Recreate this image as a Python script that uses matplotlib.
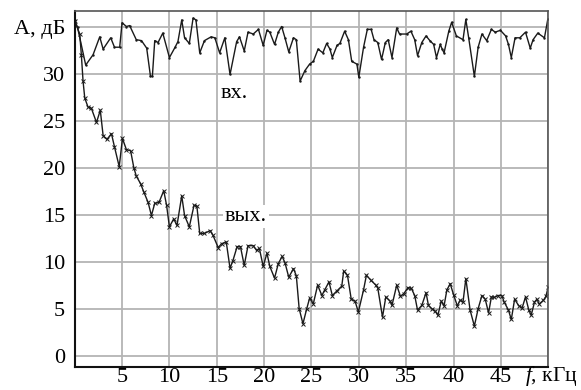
import matplotlib.pyplot as plt

plt.rcParams['font.family'] = ['Liberation Serif', 'DejaVu Serif']
plt.rcParams['mathtext.fontset'] = 'custom'
plt.rcParams['mathtext.it'] = 'Liberation Serif:italic'
plt.rcParams['mathtext.rm'] = 'Liberation Serif'
plt.rcParams['font.size'] = 16

# input signal ("вх.")
f_in = [0, 0.3, 1.16, 1.94, 2.64, 3.0, 3.8, 4.2, 4.75, 5.0, 5.46, 5.8, 6.5, 7.05, 7.6,
        8.0, 8.2, 8.45, 8.8, 9.3, 10.0, 10.6, 10.9, 11.3, 11.6, 12.1, 12.5, 12.8, 13.2,
        13.7, 14.4, 14.8, 15.3, 15.85, 16.4, 17.1, 17.4, 17.9, 18.3, 18.85, 19.4, 19.9,
        20.3, 20.6, 21.1, 21.5, 21.85, 22.2, 22.6, 23.1, 23.4, 23.8, 24.3, 24.8, 25.2,
        25.7, 26.2, 26.6, 26.95, 27.2, 27.7, 28.0, 28.5, 28.9, 29.25, 29.8, 30.0, 30.5,
        30.9, 31.3, 31.6, 32.0, 32.4, 32.8, 33.1, 33.5, 34.0, 34.3, 35.05, 35.5, 35.9,
        36.2, 36.65, 37.1, 37.5, 37.9, 38.2, 38.6, 38.8, 39.0, 39.5, 39.8, 40.3, 41.0,
        41.3, 41.6, 42.2, 42.6, 43.0, 43.5, 44.0, 44.4, 44.95, 45.5, 45.8, 46.1, 46.5,
        47.0, 47.6, 48.1, 48.4, 48.9, 49.6, 49.95]
a_in = [35.7, 34.9, 30.9, 32.0, 33.9, 32.6, 33.8, 32.8, 32.8, 35.4, 35.0, 35.1, 33.6, 33.5,
        32.7, 29.7, 29.7, 33.5, 33.3, 34.3, 31.7, 32.8, 33.4, 35.7, 33.8, 33.2, 35.9,
        35.7, 32.2, 33.5, 33.9, 33.8, 32.2, 33.8, 29.9, 33.4, 33.9, 32.4, 34.4, 34.2,
        34.7, 33.0, 34.6, 34.4, 33.1, 34.4, 35.0, 33.8, 32.3, 33.8, 33.6, 29.2, 30.3,
        31.0, 31.3, 32.6, 32.2, 33.2, 32.6, 31.7, 33.0, 33.2, 34.5, 33.6, 31.3, 31.0,
        29.6, 32.8, 34.7, 34.7, 33.6, 33.3, 31.5, 33.3, 33.6, 31.7, 34.85, 34.2, 34.2,
        34.5, 33.6, 31.9, 33.3, 34.0, 33.5, 33.1, 31.7, 33.1, 32.6, 32.2, 34.5, 35.45,
        34.0, 33.6, 35.75, 33.8, 29.7, 32.8, 34.2, 33.5, 34.7, 34.4, 34.6, 34.0, 33.1,
        31.7, 33.8, 33.8, 34.4, 32.7, 33.6, 34.3, 33.8, 35.75]

# output signal ("вых.")
f_out = [0, 0.53, 0.7, 0.88, 1.06, 1.4, 1.76, 2.3, 2.7, 3.0, 3.4, 3.88, 4.2, 4.7, 5.04,
         5.46, 5.9, 6.24, 6.5, 6.95, 7.3, 7.75, 8.1, 8.45, 8.9, 9.4, 9.7, 10.0, 10.45,
         10.8, 11.3, 11.6, 12.1, 12.6, 12.9, 13.2, 13.7, 14.3, 14.6, 15.15, 15.5, 16.0,
         16.4, 16.7, 17.15, 17.5, 17.9, 18.3, 18.85, 19.2, 19.5, 19.9, 20.3, 20.6, 21.1,
         21.5, 21.9, 22.2, 22.6, 23.1, 23.4, 23.7, 24.1, 24.5, 24.8, 25.2, 25.65, 26.1,
         26.4, 26.85, 27.2, 27.7, 28.2, 28.4, 28.8, 29.2, 29.6, 29.95, 30.5, 30.8, 31.3,
         31.8, 32.0, 32.5, 32.85, 33.3, 33.5, 34.0, 34.4, 34.75, 35.2, 35.55, 35.9, 36.2,
         36.65, 37.1, 37.35, 37.7, 38.05, 38.35, 38.7, 39.0, 39.3, 39.65, 40.0, 40.4,
         40.7, 41.0, 41.3, 41.75, 42.2, 42.6, 43.0, 43.35, 43.7, 44.0, 44.3, 44.7, 45.1,
         45.35, 45.8, 46.1, 46.45, 46.9, 47.25, 47.6, 47.95, 48.2, 48.55, 48.8, 49.05,
         49.5, 49.75, 50.0]
a_out = [35.6, 34.2, 32.0, 29.2, 27.4, 26.45, 26.3, 24.8, 26.1, 23.4, 23.0, 23.6, 22.2,
         20.1, 23.1, 21.9, 21.8, 20.0, 19.1, 18.3, 17.4, 16.3, 14.9, 16.2, 16.3, 17.55,
         16.0, 13.7, 14.55, 13.85, 17.0, 14.9, 13.7, 16.0, 15.9, 13.0, 13.0, 13.3, 12.8,
         11.5, 11.9, 12.1, 9.3, 10.1, 11.6, 11.6, 9.6, 11.7, 11.7, 11.2, 11.4, 9.5, 10.9,
         9.5, 8.25, 9.8, 10.55, 9.9, 8.35, 9.25, 8.5, 5.0, 3.4, 5.0, 6.1, 5.55, 7.5, 6.4,
         7.0, 7.85, 6.4, 6.9, 7.4, 9.0, 8.55, 6.0, 5.8, 4.65, 7.0, 8.55, 8.0, 7.5, 7.2,
         4.1, 6.25, 5.8, 5.35, 7.5, 6.3, 6.6, 7.25, 7.15, 6.4, 4.85, 5.35, 6.7, 5.35, 5.0,
         4.75, 4.3, 5.8, 5.3, 7.0, 7.65, 6.5, 5.3, 5.9, 5.7, 8.2, 4.85, 3.15, 5.0, 6.4,
         6.0, 4.55, 6.25, 6.2, 6.4, 6.4, 5.7, 4.85, 3.85, 6.0, 5.3, 5.1, 6.25, 4.85, 4.3,
         5.7, 6.0, 5.5, 5.9, 6.3, 7.3]

x_ticks = [0, 5, 10, 15, 20, 25, 30, 35, 40, 45, 50]
x_labels = ['', '5', '10', '15', '20', '25', '30', '35', '40', '45', '']
y_ticks = [0, 5, 10, 15, 20, 25, 30, 35]
y_labels = ['0', '5', '10', '15', '20', '25', '30', 'А, дБ']

fig = plt.figure(figsize=(5.81, 3.9), dpi=100)
ax = fig.add_axes([0.1286, 0.059, 0.815, 0.9128])

ax.plot(f_in, a_in, color='#1a1a1a', lw=1.0, marker='.', ms=1.5)
ax.plot(f_out, a_out, color='#1a1a1a', lw=1.0, marker='x', ms=3.5, mew=0.7)

ax.set_xlim(0, 50)
ax.set_ylim(-1.2, 36.65)
ax.set_xticks(x_ticks)
ax.set_xticklabels(x_labels)
ax.set_yticks(y_ticks)
ax.set_yticklabels(y_labels)
ax.tick_params(length=0, pad=7)
ax.tick_params(axis='x', pad=1)
ax.grid(True, color='#b4b4b4', lw=1.3)
ax.set_axisbelow(True)

# x axis name at the spot of the 50 tick, kept inside the canvas
fig.text(0.995, 0.022, '$f$, кГц', ha='right', va='baseline', fontsize=15.5)

for s in ['left', 'bottom']:
    ax.spines[s].set_linewidth(1.5)
    ax.spines[s].set_color('#111111')
for s in ['top', 'right']:
    ax.spines[s].set_linewidth(1.2)
    ax.spines[s].set_color('#555555')

box = dict(facecolor='white', edgecolor='none', pad=1.5)
ax.text(16.8, 27.9, 'вх.', ha='center', va='center', fontsize=16, bbox=box)
ax.text(18.1, 14.8, 'вых.', ha='center', va='center', fontsize=16, bbox=box)

fig.savefig('out.png', dpi=100)
